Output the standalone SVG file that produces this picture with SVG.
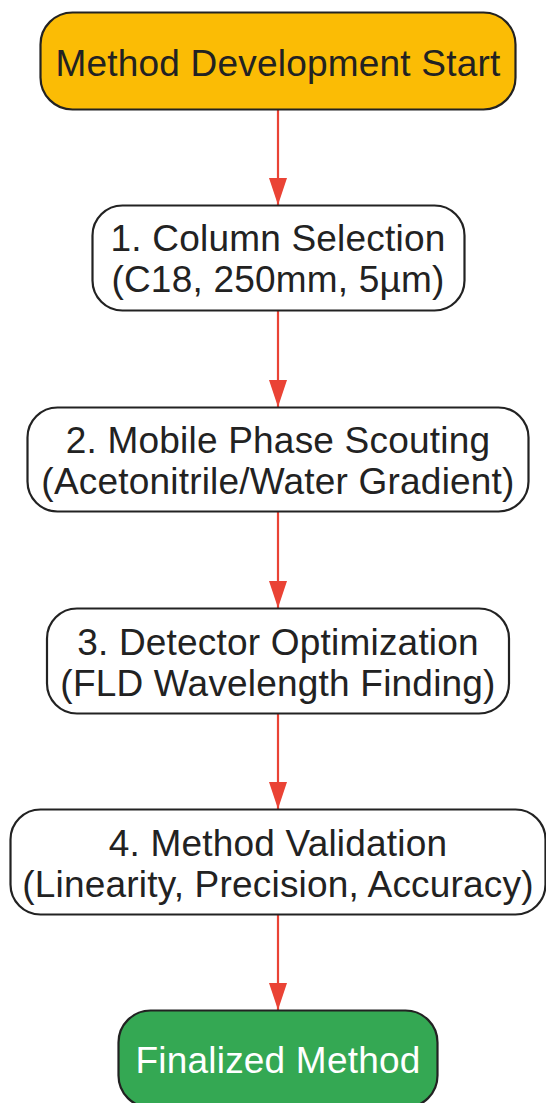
<svg xmlns="http://www.w3.org/2000/svg" width="546" height="1103" viewBox="0 0 546 1103">
<style>
.box{stroke:#222222;stroke-width:2.2;}
.w{fill:#ffffff;}
.t{font-family:"Liberation Sans",Arial,sans-serif;font-size:37px;letter-spacing:0.2px;fill:#222222;text-anchor:middle;}
.tw{fill:#ffffff;}
.edge{stroke:#EA4335;stroke-width:2.2;fill:none;marker-end:url(#arr);}
</style>
<defs>
<marker id="arr" viewBox="0 0 27 18" refX="27" refY="9" markerWidth="27" markerHeight="18" markerUnits="userSpaceOnUse" orient="auto">
<path d="M0,0 L27,9 L0,18 Z" fill="#EA4335"/>
</marker>
</defs>
<rect width="546" height="1103" fill="#ffffff"/>
<g id="connectors">
<line class="edge" x1="278" y1="110" x2="278" y2="205"/>
<line class="edge" x1="278" y1="311" x2="278" y2="407"/>
<line class="edge" x1="278" y1="512" x2="278" y2="608"/>
<line class="edge" x1="278" y1="714" x2="278" y2="809"/>
<line class="edge" x1="278" y1="915" x2="278" y2="1010"/>
</g>
<g id="start">
<rect class="box" x="40.5" y="12.5" width="475" height="97" rx="32" fill="#FBBC05"/>
<text class="t" x="278" y="76">Method Development Start</text>
</g>
<g id="step1">
<rect class="box w" x="92.5" y="205.5" width="372" height="105" rx="30"/>
<text class="t" x="278" y="251">1. Column Selection</text>
<text class="t" x="278" y="292">(C18, 250mm, 5µm)</text>
</g>
<g id="step2">
<rect class="box w" x="27.5" y="407.5" width="501" height="104" rx="30"/>
<text class="t" x="278" y="453">2. Mobile Phase Scouting</text>
<text class="t" x="278" y="494">(Acetonitrile/Water Gradient)</text>
</g>
<g id="step3">
<rect class="box w" x="47" y="608.5" width="462" height="105" rx="30"/>
<text class="t" x="278" y="655">3. Detector Optimization</text>
<text class="t" x="278" y="696">(FLD Wavelength Finding)</text>
</g>
<g id="step4">
<rect class="box w" x="10.5" y="809.5" width="535" height="105" rx="30"/>
<text class="t" x="278" y="856">4. Method Validation</text>
<text class="t" x="278" y="897">(Linearity, Precision, Accuracy)</text>
</g>
<g id="final">
<rect class="box" x="118.5" y="1010.5" width="319" height="97" rx="32" fill="#34A853"/>
<text class="t tw" x="278" y="1073">Finalized Method</text>
</g>
</svg>
